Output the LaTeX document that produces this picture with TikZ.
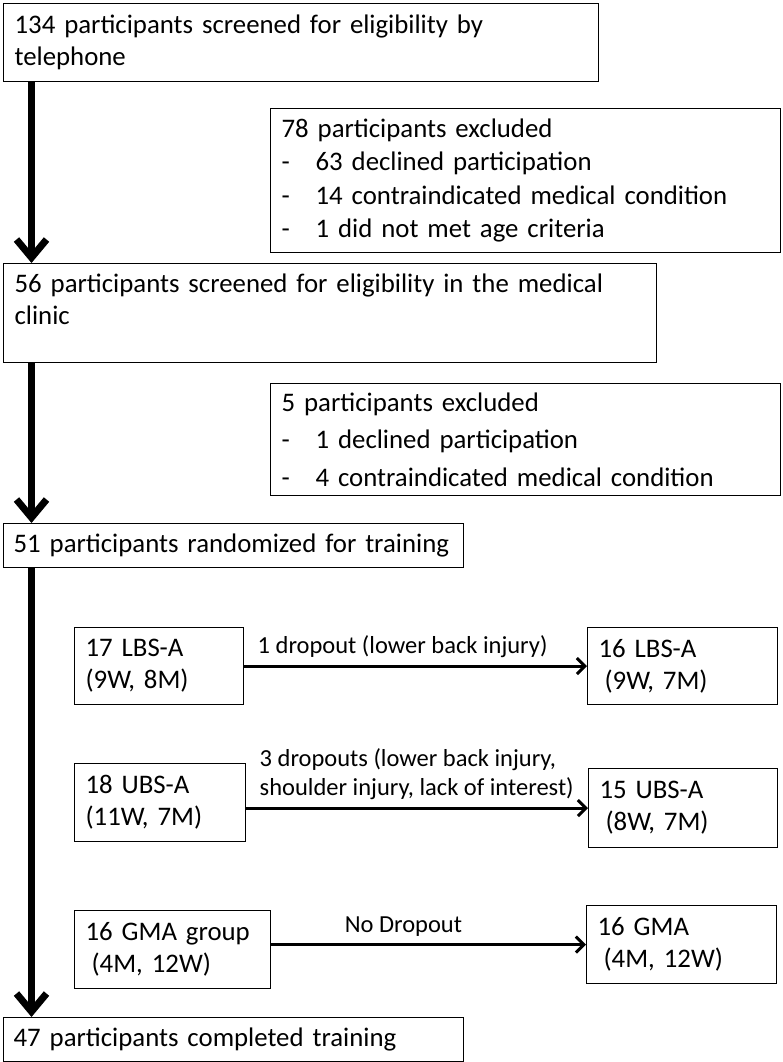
\documentclass[tikz,border=0pt]{standalone}
\usepackage{fontspec}
\setmainfont{Carlito}
\usetikzlibrary{arrows.meta}

\hyphenpenalty=10000
\newcommand{\dashitem}[1]{\makebox[34pt][l]{-}#1}

\begin{document}
\begin{tikzpicture}[x=1pt,y=-1pt,
  box/.style={draw,line width=1.2pt,anchor=north west,inner xsep=11pt,inner ysep=0pt,align=left,font=\fontsize{26.8}{32}\selectfont},
  trunk/.style={line width=7pt,-{Straight Barb[length=18pt,width=30pt]}},
  drop/.style={line width=3pt,-{Straight Barb[length=8pt,width=16pt]}},
  lbl/.style={align=left,inner xsep=0pt,inner ysep=7pt,font=\fontsize{24.5}{28.5}\selectfont}]

  \useasboundingbox (0,0) rectangle (783,1062);
  \coordinate (spine) at (31.5,0);

  \node[box,text width=573pt,minimum height=78pt] (tel) at (3,3) {134 participants screened for eligibility by\\telephone};
  \node[box,text width=488pt,minimum height=144pt,font=\fontsize{26.8}{33.5}\selectfont] (excl1) at (270,108) {78 participants excluded\\\dashitem{63 declined participation}\\\dashitem{14 contraindicated medical condition}\\\dashitem{1 did not met age criteria}};
  \node[box,text width=631pt,minimum height=99pt] (clinic) at (3,263) {56 participants screened for eligibility in the medical\\clinic\rule[-28pt]{0pt}{28pt}};
  \node[box,text width=488pt,minimum height=112pt,font=\fontsize{26.8}{37.5}\selectfont] (excl2) at (270,383) {5 participants excluded\\\dashitem{1 declined participation}\\\dashitem{4 contraindicated medical condition}};
  \node[box,text width=440pt,minimum height=44pt,inner xsep=10pt] (rand) at (3,523) {51 participants randomized for training};

  \node[box,text width=147pt,minimum height=77pt] (lbsa) at (74,627) {17 LBS-A\\(9W, 8M)};
  \node[box,text width=168pt,minimum height=77pt] (lbsb) at (587,627) {16 LBS-A\\\hspace*{6pt}(9W, 7M)};
  \node[box,text width=149pt,minimum height=78pt] (ubsa) at (74,763) {18 UBS-A\\(11W, 7M)};
  \node[box,text width=167pt,minimum height=79pt] (ubsb) at (588,768) {15 UBS-A\\\hspace*{6pt}(8W, 7M)};
  \node[box,text width=174pt,minimum height=78pt] (gmaa) at (74,910) {16 GMA group\\\hspace*{6pt}(4M, 12W)};
  \node[box,text width=168pt,minimum height=78pt] (gmab) at (586,905) {16 GMA\\\hspace*{6pt}(4M, 12W)};

  \node[box,text width=440pt,minimum height=44pt,inner xsep=10pt] (done) at (3,1017) {47 participants completed training};

  % main flow
  \draw[trunk] (tel.south -| spine) -- (clinic.north -| spine);
  \draw[trunk] (clinic.south -| spine) -- (rand.north -| spine);
  \draw[trunk] (rand.south -| spine) -- (done.north -| spine);

  % dropouts
  \draw[drop] (lbsa) -- node[lbl,above right,pos=0,xshift=12pt] (d1) {1 dropout (lower back injury)} (lbsb);
  \draw[drop] (ubsb.west -| ubsa.east) -- node[lbl,above right,pos=0,xshift=12pt] (d2) {3 dropouts (lower back injury,\\shoulder injury, lack of interest)} (ubsb.west);
  \draw[drop] (gmab.west -| gmaa.east) -- node[lbl,above,pos=0.42] (d3) {No Dropout} (gmab.west);

\end{tikzpicture}
\end{document}
